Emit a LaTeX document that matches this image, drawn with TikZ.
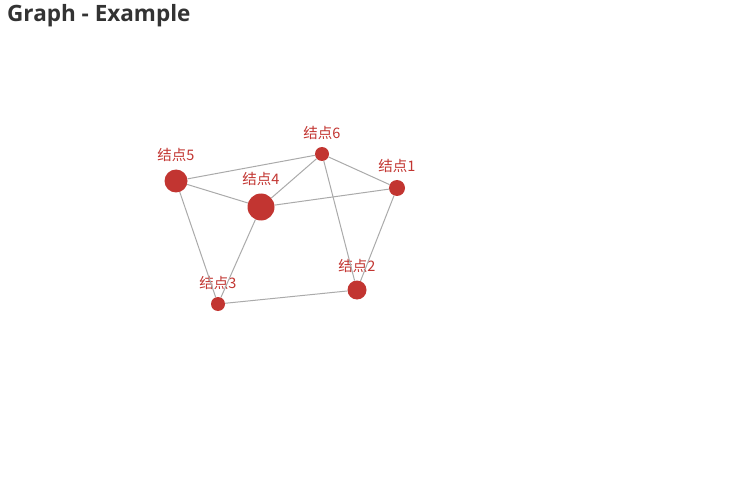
\documentclass[tikz,border=0pt]{standalone}
\usepackage{fontspec}
\setmainfont{Noto Sans}
\newfontfamily\titlefont{Open Sans}
\newfontfamily\cjk{Noto Sans CJK SC}
\usepackage{xcolor}
\usetikzlibrary{positioning}

\definecolor{nodered}{HTML}{C23531}
\definecolor{linkgray}{HTML}{AAAAAA}
\definecolor{titlegray}{HTML}{333333}

\begin{document}
\begin{tikzpicture}[x=1pt, y=-1pt,
  %% style definitions
  vertex/.style = {circle, fill=nodered, inner sep=0pt},
  lbl/.style    = {font=\cjk\fontsize{14.5}{14.5}\selectfont, text=nodered,
                   inner sep=0pt},
  link/.style   = {draw=linkgray, line width=1pt},
  title/.style  = {font=\titlefont\bfseries\fontsize{22.5}{22.5}\selectfont, text=titlegray,
                   inner sep=0pt, anchor=north west},
]
\useasboundingbox (0,0) rectangle (750,500);

%% -- title --------------------------------------------------------------
\node[title] (head) at (7,4) {Graph - Example};

%% -- vertices -----------------------------------------------------------
\node[vertex, minimum size=16pt, label={[lbl, label distance=7pt]above:结点1}] (n1) at (397,188) {};
\node[vertex, minimum size=19pt, label={[lbl, label distance=7pt]above:结点2}] (n2) at (357,290) {};
\node[vertex, minimum size=14pt, label={[lbl, label distance=7pt]above:结点3}] (n3) at (218,304) {};
\node[vertex, minimum size=27pt, label={[lbl, label distance=7pt]above:结点4}] (n4) at (261,207) {};
\node[vertex, minimum size=23pt, label={[lbl, label distance=7pt]above:结点5}] (n5) at (176,181) {};
\node[vertex, minimum size=14pt, label={[lbl, label distance=7pt]above:结点6}] (n6) at (322,154) {};

%% -- links --------------------------------------------------------------
\draw[link] (n5) -- (n6);
\draw[link] (n5) -- (n4);
\draw[link] (n5) -- (n3);
\draw[link] (n4) -- (n6);
\draw[link] (n4) -- (n1);
\draw[link] (n4) -- (n3);
\draw[link] (n6) -- (n1);
\draw[link] (n6) -- (n2);
\draw[link] (n1) -- (n2);
\draw[link] (n3) -- (n2);

\end{tikzpicture}
\end{document}
